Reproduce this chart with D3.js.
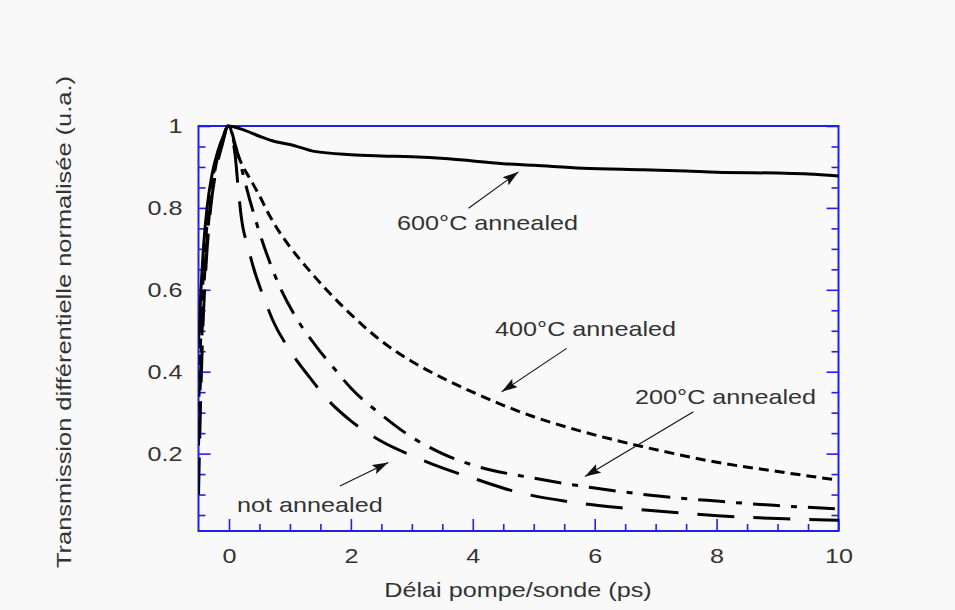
<!DOCTYPE html>
<html>
<head>
<meta charset="utf-8">
<script src="https://cdn.jsdelivr.net/npm/d3@7"></script>
<style>
  html, body { margin: 0; padding: 0; background: #f9f9f9; }
  svg { display: block; }
  text { font-family: "Liberation Sans", Arial, Helvetica, sans-serif; fill: #333; }
</style>
</head>
<body>
<svg id="chart" width="955" height="610"></svg>
<script>
// Pump-probe delay (ps) and normalised differential transmission for each sample
const delayNotAnnealed = [-0.5, -0.47, -0.43, -0.38, -0.3, -0.2, -0.1, -0.02, 0.1, 0.15, 0.2, 0.32, 0.4, 0.59, 0.73, 1.0, 1.33, 1.6, 2.0, 2.5, 3.0, 3.5, 4.0, 4.68, 5.55, 6.54, 7.42, 8.41, 9.33, 10];
const signalNotAnnealed = [0.1, 0.3, 0.5, 0.65, 0.8, 0.9, 0.96, 1.0, 0.93, 0.85, 0.78, 0.70, 0.655, 0.574, 0.522, 0.452, 0.385, 0.335, 0.28, 0.23, 0.195, 0.165, 0.14, 0.108, 0.083, 0.066, 0.055, 0.045, 0.04, 0.037];

const delay200 = [-0.5, -0.46, -0.42, -0.36, -0.28, -0.18, -0.08, -0.01, 0.12, 0.2, 0.35, 0.5, 0.65, 0.84, 1.11, 1.44, 1.77, 2.0, 2.5, 3.0, 3.5, 4.0, 5.0, 6.0, 7.0, 8.0, 9.0, 10];
const signal200 = [0.22, 0.42, 0.58, 0.72, 0.84, 0.93, 0.98, 1.0, 0.945, 0.9, 0.815, 0.74, 0.675, 0.605, 0.53, 0.46, 0.4, 0.36, 0.295, 0.24, 0.2, 0.172, 0.14, 0.116, 0.097, 0.084, 0.073, 0.065];

const delay400 = [-0.5, -0.46, -0.42, -0.36, -0.28, -0.18, -0.08, 0, 0.1, 0.2, 0.35, 0.5, 0.67, 0.81, 1.0, 1.33, 1.6, 2.0, 2.5, 3.0, 3.5, 4.0, 4.5, 5.0, 5.77, 6.64, 7.3, 7.96, 9.06, 10];
const signal400 = [0.3, 0.5, 0.64, 0.76, 0.86, 0.93, 0.975, 1.0, 0.95, 0.91, 0.87, 0.83, 0.78, 0.745, 0.705, 0.645, 0.6, 0.54, 0.475, 0.425, 0.385, 0.35, 0.318, 0.29, 0.255, 0.222, 0.2, 0.18, 0.155, 0.135];

const delay600 = [-0.5, -0.46, -0.42, -0.36, -0.28, -0.18, -0.08, -0.02, 0.25, 0.5, 0.75, 1.0, 1.4, 2.0, 2.5, 3.0, 3.6, 4.5, 5.0, 5.8, 6.8, 7.5, 8.0, 9.0, 9.5, 10];
const signal600 = [0.47, 0.6, 0.7, 0.8, 0.88, 0.94, 0.98, 1.0, 0.99, 0.975, 0.962, 0.955, 0.938, 0.93, 0.927, 0.925, 0.92, 0.908, 0.904, 0.897, 0.893, 0.89, 0.887, 0.885, 0.883, 0.878];

const seriesNames = ["not annealed", "200°C annealed", "400°C annealed", "600°C annealed"];

// Axis ticks
const xMajorTicks = [0, 2, 4, 6, 8, 10];
const xMinorTicks = [0.5, 1, 1.5, 2.5, 3, 3.5, 4.5, 5, 5.5, 6.5, 7, 7.5, 8.5, 9, 9.5];
const yMajorTicks = [0.2, 0.4, 0.6, 0.8, 1];
const yMinorTicks = [0.05, 0.1, 0.15, 0.25, 0.3, 0.35, 0.45, 0.5, 0.55, 0.65, 0.7, 0.75, 0.85, 0.9, 0.95];

const xTitle = "Délai pompe/sonde (ps)";
const yTitle = "Transmission différentielle normalisée (u.a.)";

// Layout
const W = 955, H = 610;
const plot = { left: 198.5, right: 838.5, top: 126, bottom: 531 };
const FONT = 21, STRETCH = 1.2;
const frameBlue = "#2020ee";

const svg = d3.select("#chart");
svg.append("rect").attr("width", W).attr("height", H).attr("fill", "#f9f9f9");

const x = d3.scaleLinear().domain([-0.5, 10]).range([plot.left, plot.right]);
const y = d3.scaleLinear().domain([0.011, 1]).range([plot.bottom, plot.top]);

// Widen glyphs horizontally (the chart's lettering is broad)
function widen(sel, target) {
  sel.each(function () {
    const w = target || this.getComputedTextLength() * STRETCH;
    this.setAttribute("textLength", w.toFixed(1));
    this.setAttribute("lengthAdjust", "spacingAndGlyphs");
  });
}

svg.append("defs").append("clipPath").attr("id", "plotClip")
  .append("rect")
  .attr("x", plot.left).attr("y", plot.top - 3)
  .attr("width", plot.right - plot.left).attr("height", plot.bottom - plot.top + 3);

svg.append("marker").attr("id", "head")
  .attr("viewBox", "0 0 16 10").attr("refX", 16).attr("refY", 5)
  .attr("markerWidth", 16).attr("markerHeight", 10)
  .attr("markerUnits", "userSpaceOnUse").attr("orient", "auto")
  .append("path").attr("d", "M0,0 L16,5 L0,10 L3,5 Z").attr("fill", "#111");

// Axes: blue frame with inward ticks on left, bottom and right
function styleAxis(g) {
  g.select(".domain").remove();
  g.selectAll(".tick line").attr("stroke", frameBlue).attr("stroke-width", 1.6);
  g.selectAll("text").attr("fill", "#333").attr("font-size", FONT)
    .attr("font-family", "Liberation Sans, Arial, sans-serif");
}

const yFmt = d3.format("~g");

svg.append("g").attr("transform", `translate(${plot.left},0)`)
  .call(d3.axisLeft(y).tickValues(yMajorTicks).tickSize(-12).tickPadding(16).tickFormat(yFmt))
  .call(styleAxis)
  .call(g => widen(g.selectAll("text")));
svg.append("g").attr("transform", `translate(${plot.left},0)`)
  .call(d3.axisLeft(y).tickValues(yMinorTicks).tickSize(-7).tickFormat(""))
  .call(styleAxis);

svg.append("g").attr("transform", `translate(${plot.right},0)`)
  .call(d3.axisRight(y).tickValues(yMajorTicks).tickSize(-12).tickFormat(""))
  .call(styleAxis);
svg.append("g").attr("transform", `translate(${plot.right},0)`)
  .call(d3.axisRight(y).tickValues(yMinorTicks).tickSize(-7).tickFormat(""))
  .call(styleAxis);

svg.append("g").attr("transform", `translate(0,${plot.bottom})`)
  .call(d3.axisBottom(x).tickValues(xMajorTicks).tickSize(-12).tickPadding(17).tickFormat(d3.format("d")))
  .call(styleAxis)
  .call(g => widen(g.selectAll("text")));
svg.append("g").attr("transform", `translate(0,${plot.bottom})`)
  .call(d3.axisBottom(x).tickValues(xMinorTicks).tickSize(-7).tickFormat(""))
  .call(styleAxis);

svg.append("rect")
  .attr("x", plot.left).attr("y", plot.top)
  .attr("width", plot.right - plot.left).attr("height", plot.bottom - plot.top)
  .attr("fill", "none").attr("stroke", frameBlue).attr("stroke-width", 2);

// Decay curves
const curves = [
  { name: seriesNames[0], xs: delayNotAnnealed, ys: signalNotAnnealed, dash: "37,19" },
  { name: seriesNames[1], xs: delay200, ys: signal200, dash: "27,11,6,11" },
  { name: seriesNames[2], xs: delay400, ys: signal400, dash: "10,6" },
  { name: seriesNames[3], xs: delay600, ys: signal600, dash: null }
];

const line = d3.line()
  .x(d => x(d[0])).y(d => y(d[1]))
  .curve(d3.curveMonotoneX);

const curveLayer = svg.append("g").attr("clip-path", "url(#plotClip)");
curves.forEach(c => {
  curveLayer.append("path")
    .datum(c.xs.map((v, i) => [v, c.ys[i]]))
    .attr("d", line)
    .attr("fill", "none")
    .attr("stroke", "#000")
    .attr("stroke-width", 3)
    .attr("stroke-linejoin", "round")
    .attr("stroke-dasharray", c.dash);
});

// Annotations in data units: label start, arrow tail, arrow tip
const annotations = [
  { text: seriesNames[3], at: [2.757, 0.746], tail: [3.93, 0.799], tip: [4.75, 0.888] },
  { text: seriesNames[2], at: [4.365, 0.487], tail: [5.54, 0.457], tip: [4.475, 0.351] },
  { text: seriesNames[1], at: [6.662, 0.321], tail: [7.62, 0.302], tip: [5.84, 0.144] },
  { text: seriesNames[0], at: [0.132, 0.058], tail: [1.82, 0.121], tip: [2.614, 0.178] }
];

annotations.forEach(a => {
  svg.append("line")
    .attr("x1", x(a.tail[0])).attr("y1", y(a.tail[1]))
    .attr("x2", x(a.tip[0])).attr("y2", y(a.tip[1]))
    .attr("stroke", "#111").attr("stroke-width", 1.1)
    .attr("marker-end", "url(#head)");
  svg.append("text")
    .attr("x", x(a.at[0])).attr("y", y(a.at[1]))
    .attr("font-size", FONT)
    .text(a.text)
    .call(widen);
});

// Axis titles
svg.append("text")
  .attr("x", (plot.left + plot.right) / 2 - 0.5).attr("y", 597)
  .attr("text-anchor", "middle").attr("font-size", FONT)
  .text(xTitle)
  .call(widen);

svg.append("text")
  .attr("transform", "translate(71,322) rotate(-90)")
  .attr("text-anchor", "middle").attr("font-size", FONT)
  .text(yTitle)
  .call(widen, 492);
</script>
</body>
</html>
